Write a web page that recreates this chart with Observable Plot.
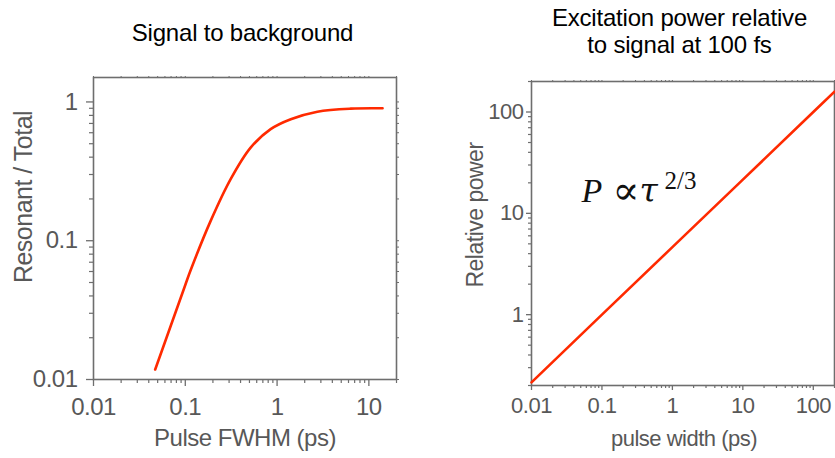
<!DOCTYPE html>
<html><head><meta charset="utf-8">
<script src="https://cdn.jsdelivr.net/npm/d3@7"></script>
<script src="https://cdn.jsdelivr.net/npm/@observablehq/plot@0.6"></script>
<style>
body{margin:0;background:#fff;}
#wrap{position:relative;width:835px;height:458px;font-family:"Liberation Sans",Arial,sans-serif;overflow:hidden;}
.panel{position:absolute;top:60px;}
.title{position:absolute;color:#000;font-size:24px;line-height:27px;text-align:center;width:303px;letter-spacing:-0.2px;}
.panel svg text{letter-spacing:-0.5px;}
</style></head>
<body><div id="wrap">
<div class="title" id="t1" style="left:91px;top:19px;">Signal to background</div>
<div class="title" id="t2" style="left:528px;top:4px;">Excitation power relative<br>to signal at 100 fs</div>
<div class="panel" id="p1" style="left:0px;"></div>
<div class="panel" id="p2" style="left:420px;"></div>
</div>
<script>
// Left panel: Signal to background (Resonant / Total vs Pulse FWHM)
const fwhm  = [0.047, 0.1, 0.114, 0.189, 0.312, 0.515, 0.851, 1.41, 2.75, 6.35, 14.1];
const ratio = [0.0118, 0.048, 0.061, 0.139, 0.278, 0.469, 0.637, 0.751, 0.851, 0.895, 0.900];
const leftXTicks = [0.01, 0.1, 1, 10];
const leftYTicks = [0.01, 0.1, 1];

// Right panel: Excitation power relative to signal at 100 fs
const pulseWidth = [0.01, 0.1, 1, 10, 100, 200];
const relPower   = [0.215, 1, 4.64, 21.5, 100, 158.7];
const rightXTicks = [0.01, 0.1, 1, 10, 100];
const rightYTicks = [1, 10, 100];

const gray = "#585858";
const frameGray = "#6e6e6e";
const red = "#ff2a00";
const fmt = d => String(d);

function minor(domain, majors) {
  return d3.scaleLog().domain(domain).ticks().filter(t => !majors.some(m => Math.abs(m - t) < 1e-12));
}

function axes(xDom, yDom, xMaj, yMaj, o) {
  const xAll = d3.scaleLog().domain(xDom).ticks();
  const yAll = d3.scaleLog().domain(yDom).ticks();
  return [
    Plot.axisX(xMaj, {anchor: "bottom", tickSize: o.maj, tickPadding: o.xpad, tickFormat: fmt, fontSize: o.fs, fill: gray, stroke: frameGray, strokeWidth: 1.3, label: null}),
    Plot.axisX(minor(xDom, xMaj), {anchor: "bottom", tickSize: o.min, tickFormat: () => "", stroke: frameGray, strokeWidth: 1.2, label: null}),
    Plot.axisY(yMaj, {anchor: "left", tickSize: o.maj, tickPadding: o.ypad, tickFormat: fmt, fontSize: o.fs, fill: gray, stroke: frameGray, strokeWidth: 1.3, label: null}),
    Plot.axisY(minor(yDom, yMaj), {anchor: "left", tickSize: o.min, tickFormat: () => "", stroke: frameGray, strokeWidth: 1.2, label: null}),
    Plot.axisX(xAll, {anchor: "top", tickSize: 2, tickFormat: () => "", stroke: frameGray, strokeWidth: 1, label: null}),
    Plot.axisY(yAll, {anchor: "right", tickSize: 2, tickFormat: () => "", stroke: frameGray, strokeWidth: 1, label: null}),
    Plot.frame({stroke: frameGray, strokeWidth: 1.6})
  ];
}

const left = Plot.plot({
  width: 420, height: 398,
  marginLeft: 93, marginRight: 24, marginTop: 17, marginBottom: 79,
  style: {fontFamily: "Liberation Sans, Arial, sans-serif", background: "transparent", overflow: "visible"},
  x: {type: "log", domain: [0.01, 20]},
  y: {type: "log", domain: [0.01, 1.5]},
  marks: [
    ...axes([0.01, 20], [0.01, 1.5], leftXTicks, leftYTicks, {maj: 7, min: 4, xpad: 11, ypad: 9, fs: 24}),
    Plot.line(fwhm.map((x, i) => ({x, y: ratio[i]})), {x: "x", y: "y", stroke: red, strokeWidth: 2.6, curve: "catmull-rom"})
  ]
});
document.getElementById("p1").appendChild(left);

const right = Plot.plot({
  width: 415, height: 398,
  marginLeft: 111, marginRight: 1, marginTop: 21, marginBottom: 73,
  style: {fontFamily: "Liberation Sans, Arial, sans-serif", background: "transparent", overflow: "visible"},
  x: {type: "log", domain: [0.01, 200]},
  y: {type: "log", domain: [0.2, 200]},
  marks: [
    ...axes([0.01, 200], [0.2, 200], rightXTicks, rightYTicks, {maj: 5, min: 3, xpad: 7, ypad: 3, fs: 22}),
    Plot.line(pulseWidth.map((x, i) => ({x, y: relPower[i]})), {x: "x", y: "y", stroke: red, strokeWidth: 2.6})
  ]
});
document.getElementById("p2").appendChild(right);

// axis labels
const ls = d3.select(left);
ls.append("text").attr("x", 245).attr("y", 386).attr("text-anchor", "middle")
  .attr("font-size", 24).attr("fill", gray).text("Pulse FWHM (ps)");
ls.append("text").attr("transform", "translate(31.5,137) rotate(-90)").attr("text-anchor", "middle")
  .attr("font-size", 25).attr("fill", gray).text("Resonant / Total");

const rs = d3.select(right);
rs.append("text").attr("x", 264).attr("y", 386).attr("text-anchor", "middle")
  .attr("font-size", 22).attr("fill", gray).text("pulse width (ps)");
rs.append("text").attr("transform", "translate(63.3,155) rotate(-90)").attr("text-anchor", "middle")
  .attr("font-size", 23).attr("fill", gray).text("Relative power");

// annotation P ∝ τ^{2/3}
const ax = right.scale("x").apply(0.0523);
const ay = right.scale("y").apply(12.7);
const annPieces = [
  {t: "P",   dx: 0,  dy: 0,   size: 34, italic: true,  fam: "Liberation Serif"},
  {t: "∝",   dx: 31, dy: 2,   size: 40, italic: false, fam: "DejaVu Serif"},
  {t: "τ",   dx: 58, dy: 0,   size: 33, italic: true,  fam: "DejaVu Serif"},
  {t: "2/3", dx: 83, dy: -13, size: 25, italic: false, fam: "Liberation Serif"}
];
for (const p of annPieces) {
  rs.append("text").attr("x", ax + p.dx).attr("y", ay + p.dy).attr("text-anchor", "start")
    .attr("font-family", p.fam).attr("font-size", p.size).attr("fill", "#111")
    .attr("font-style", p.italic ? "italic" : "normal").style("letter-spacing", "0px").text(p.t);
}
</script>
</body></html>
